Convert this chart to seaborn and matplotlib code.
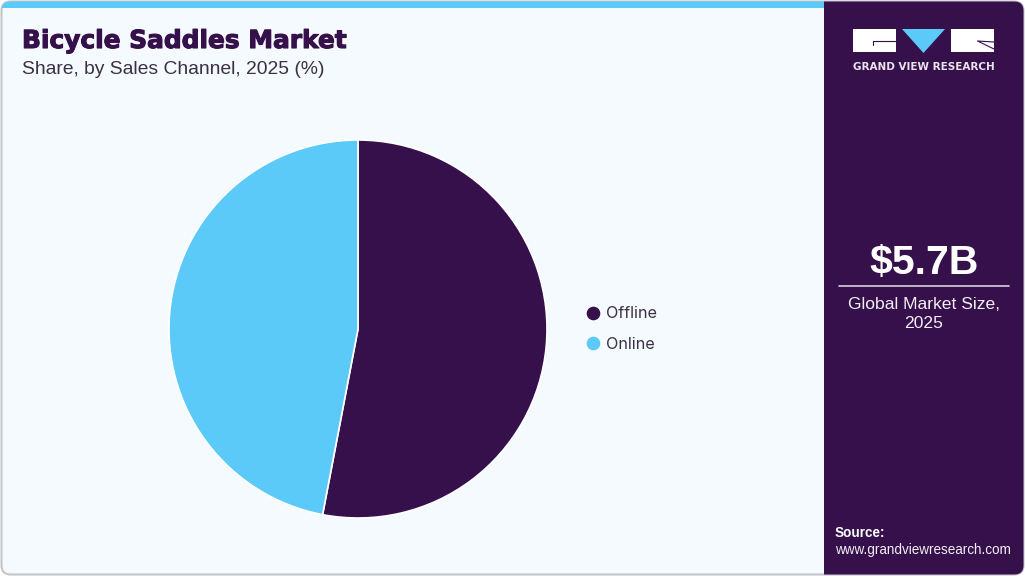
import matplotlib
matplotlib.use("Agg")
import matplotlib.pyplot as plt
import matplotlib.patheffects as pe
from matplotlib.patches import FancyBboxPatch, Rectangle, Polygon
from matplotlib.lines import Line2D
import seaborn as sns

channels = ["Offline", "Online"]
shares = [53, 47]
colors = ["#36104a", "#5bcaf9"]

title = "Bicycle Saddles Market"
subtitle = "Share, by Sales Channel, 2025 (%)"
market_size = "$5.7B"
market_label = "Global Market Size,\n2025"

sns.set_theme(style="white")
plt.rcParams["font.family"] = ["Liberation Sans", "DejaVu Sans"]

W, H = 1025, 576
fig = plt.figure(figsize=(W / 100, H / 100), dpi=100, facecolor="#ffffff")

# whole-figure axes in pixels, y going down
bg = fig.add_axes([0, 0, 1, 1])
bg.set_xlim(0, W)
bg.set_ylim(H, 0)
bg.axis("off")

card = FancyBboxPatch((1.5, 1.5), W - 3, H - 3, boxstyle="round,pad=0,rounding_size=9",
                      fc="#f4fafd", ec="#c4c6c8", lw=1.5)
bg.add_patch(card)
top = Rectangle((0, 0), 824, 8, fc="#5bcaf9", ec="none")
bg.add_patch(top)
top.set_clip_path(card)
panel = Rectangle((824, 0), 201, H, fc="#36104a", ec="none")
bg.add_patch(panel)
panel.set_clip_path(card)

# logo
white = "#ffffff"
bg.add_patch(Rectangle((853, 29), 43, 23, fc=white, ec="none"))
bg.plot([896, 872.5, 872.5], [41, 41, 45], color=colors[0], lw=0.8)
bg.add_patch(Polygon([(902, 29), (945, 29), (923.5, 53)], fc=colors[1], ec="none"))
bg.add_patch(Rectangle((951, 29), 43, 23, fc=white, ec="none"))
bg.plot([994, 977.5, 994], [42, 41, 49], color=colors[0], lw=0.8)
bg.text(923.5, 67, "GRAND VIEW RESEARCH", color="#e9e4ec", fontsize=7.45, fontweight="bold",
        ha="center", va="center", family="DejaVu Sans")

# stroke thickens the bold face to the heavy weight of the original title
bg.text(22, 41, title, color=colors[0], fontsize=17.9, fontweight="bold", ha="left", va="center",
        family="DejaVu Sans", path_effects=[pe.withStroke(linewidth=0.8, foreground=colors[0])])
bg.text(22, 69, subtitle, color="#3b3144", fontsize=13.85, ha="left", va="center")

bg.text(924, 263, market_size, color="white", fontsize=29.5, fontweight="bold", ha="center", va="center")
bg.plot([839, 1009], [286, 286], color="#d8d2dc", lw=1.2)
bg.text(924, 314, market_label, color="#f2eff4", fontsize=12.6, ha="center", va="center", linespacing=1.35)

bg.text(835, 533, "Source:", color="white", fontsize=9.75, fontweight="bold", ha="left", va="center")
bg.text(835, 550, "www.grandviewresearch.com", color="#f2eff4", fontsize=9.75, ha="left", va="center")

# pie centred at (358, 329), radius 189 px
R = 189
ax = fig.add_axes([(358 - R) / W, 1 - (329 + R) / H, 2 * R / W, 2 * R / H])
ax.pie(shares, colors=sns.color_palette(colors), startangle=90, counterclock=False, radius=1,
       wedgeprops={"edgecolor": "white", "linewidth": 1.2})
ax.set_xlim(-1, 1)
ax.set_ylim(-1, 1)

handles = [Line2D([], [], marker="o", ls="", ms=8.8, mfc=c, mec=c) for c in colors]
fig.legend(handles, channels, loc="center left", bbox_to_anchor=(585 / W, 1 - 329 / H), frameon=False,
           prop={"family": "Inter", "size": 11.6}, labelcolor="#3b3144", labelspacing=0.95,
           handlelength=1.0, handletextpad=0.3, borderpad=0, borderaxespad=0)

fig.savefig("out.png", dpi=100, facecolor=fig.get_facecolor())
